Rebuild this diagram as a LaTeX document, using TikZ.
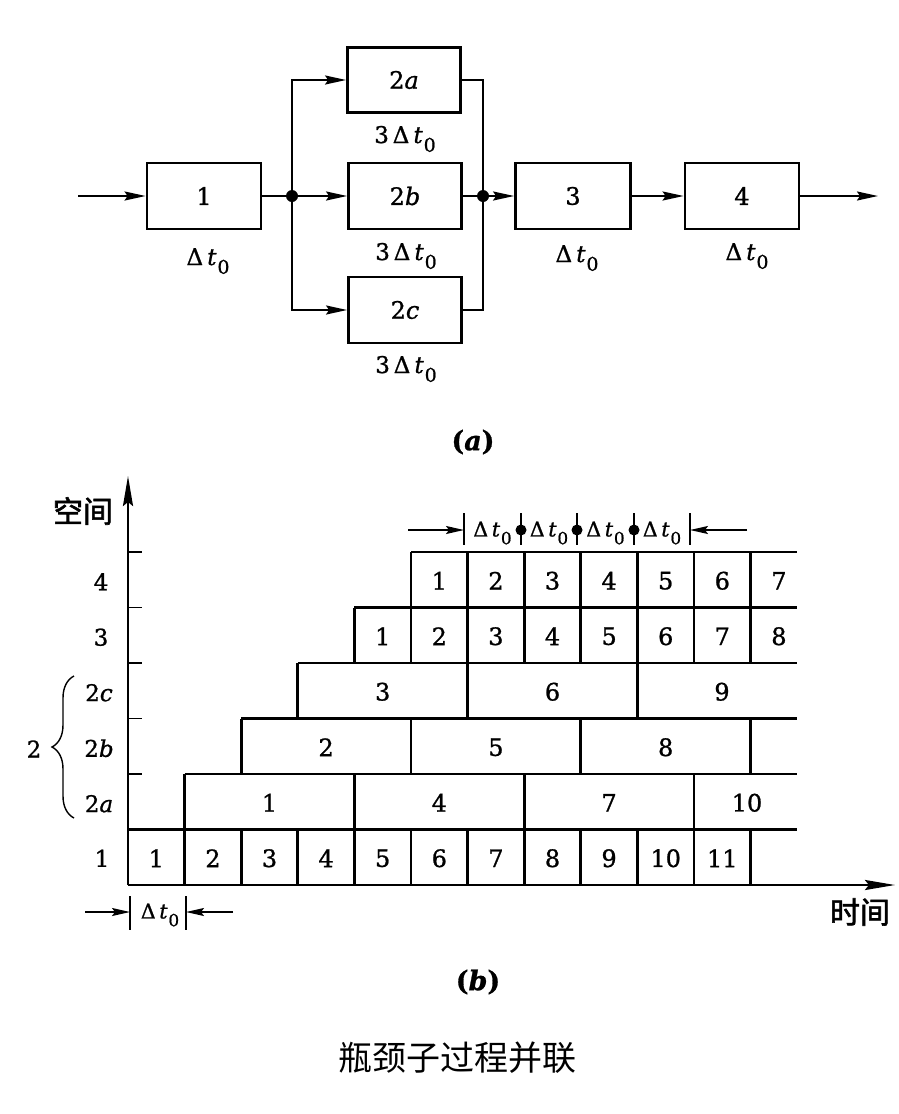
\RequirePackage{fix-cm}
\documentclass[tikz,border=0pt]{standalone}
\usepackage[no-math]{fontspec}
\setmainfont{DejaVu Serif}[FakeBold=1]
\newfontfamily\cjk{Noto Sans CJK SC}
\newfontfamily\cjkb[FakeBold=2]{Noto Sans CJK SC}
\usetikzlibrary{arrows.meta,decorations.pathreplacing,calc}
\newcommand\dtz{Δ\kern0.18em\textit{t}\kern0.04em\raisebox{-0.38em}{\scalebox{0.82}{0}}}
\begin{document}
\begin{tikzpicture}[x=1pt,y=-1pt,
  box/.style={draw,line width=2.8pt,minimum width=114pt,minimum height=66pt,inner sep=0pt,font=\fontsize{24}{28}\selectfont},
  conn/.style={line width=2pt},
  arr/.style={conn,-{Stealth[length=21pt,width=9pt,inset=3pt]}},
  lbl/.style={font=\fontsize{23}{27}\selectfont,inner sep=0pt,anchor=base},
  jdot/.style={circle,fill,inner sep=0pt,minimum size=12pt},
  gridline/.style={line width=2.9pt},
  axisarr/.style={line width=2.5pt,-{Stealth[length=30pt,width=10pt,inset=4pt]}},
  num/.style={font=\fontsize{24}{28}\selectfont,inner sep=0pt},
  axl/.style={font=\fontsize{23}{27}\selectfont,inner sep=0pt},
  dimline/.style={line width=1.6pt},
  dimarr/.style={line width=1.6pt,-{Stealth[length=18pt,width=8pt,inset=3pt]}},
  dimtxt/.style={font=\fontsize{20.5}{24}\selectfont,inner sep=0pt},
  declare function={cx(\k)=128+56.6*\k; ry(\r)=885-55.5*\r;}
]
\useasboundingbox (0,0) rectangle (898,1114);

% ---------------- (a) ----------------
\node[box] (b1) at (204,196) {1};
\node[box,minimum width=113pt,minimum height=65pt] (b2a) at (404,80) {2\textit{a}};
\node[box,minimum width=113pt] (b2b) at (405,196) {2\textit{b}};
\node[box,minimum width=113pt] (b2c) at (405,310) {2\textit{c}};
\node[box,minimum width=115pt] (b3) at (573,196) {3};
\node[box] (b4) at (742,196) {4};

\node[jdot] (J1) at (292,196) {};
\node[jdot] (J2) at (483,196) {};
\coordinate (in) at (78,196);
\coordinate (out) at (878,196);

\draw[arr] (in) -- (b1.west);
\draw[conn] (b1.east) -- (J1);
\draw[arr] (J1) -- (b2b.west);
\draw[arr] (J1.center) |- (b2a.west);
\draw[arr] (J1.center) |- (b2c.west);
\draw[conn] (b2a.east) -| (J2.center);
\draw[conn] (b2c.east) -| (J2.center);
\draw[conn] (b2b.east) -- (J2);
\draw[arr] (J2) -- (b3.west);
\draw[arr] (b3.east) -- (b4.west);
\draw[arr] (b4.east) -- (out);

\node[lbl] (l1) at (208,265) {\dtz};
\node[lbl] (l2a) at (405,143) {3\,\dtz};
\node[lbl] (l2b) at (406,260) {3\,\dtz};
\node[lbl] (l2c) at (406,373) {3\,\dtz};
\node[lbl] (l3) at (577,262) {\dtz};
\node[lbl] (l4) at (747,260) {\dtz};

\node[font=\fontsize{27}{30}\selectfont\bfseries] (capa) at (473,442) {(\textit{a})};

% ---------------- (b) ----------------
\coordinate (O) at (128,885);
\coordinate (xend) at (895,885);
\coordinate (yend) at (128,476);
\draw[axisarr] (O) -- (xend);
\draw[axisarr] (O) -- (yend);
\foreach \r in {1,...,6} \draw[line width=1.8pt] (128,{ry(\r)}) -- (142,{ry(\r)});

% horizontal row lines
\draw[gridline] ({cx(0)},{ry(1)}) -- (797,{ry(1)});
\foreach \r in {2,...,6} \draw[gridline] ({cx(\r-1)},{ry(\r)}) -- (797,{ry(\r)});

% vertical separators
\foreach \k in {1,...,11} \draw[gridline] ({cx(\k)},{ry(0)}) -- ({cx(\k)},{ry(1)});
\foreach \k in {1,4,7,10} \draw[gridline] ({cx(\k)},{ry(1)}) -- ({cx(\k)},{ry(2)});
\foreach \k in {2,5,8,11} \draw[gridline] ({cx(\k)},{ry(2)}) -- ({cx(\k)},{ry(3)});
\foreach \k in {3,6,9} \draw[gridline] ({cx(\k)},{ry(3)}) -- ({cx(\k)},{ry(4)});
\foreach \k in {4,...,11} \draw[gridline] ({cx(\k)},{ry(4)}) -- ({cx(\k)},{ry(5)});
\foreach \k in {5,...,11} \draw[gridline] ({cx(\k)},{ry(5)}) -- ({cx(\k)},{ry(6)});

% numbers
\foreach \k in {1,...,11} \node[num] (ra\k) at ({cx(\k-0.5)},{ry(0.5)+1}) {\k};
\node[num] (rb1) at ({cx(2.5)},{ry(1.5)+1}) {1};
\node[num] (rb4) at ({cx(5.5)},{ry(1.5)+1}) {4};
\node[num] (rb7) at ({cx(8.5)},{ry(1.5)+1}) {7};
\node[num] (rb10) at (747,{ry(1.5)+1}) {10};
\node[num] (rc2) at ({cx(3.5)},{ry(2.5)+1}) {2};
\node[num] (rc5) at ({cx(6.5)},{ry(2.5)+1}) {5};
\node[num] (rc8) at ({cx(9.5)},{ry(2.5)+1}) {8};
\node[num] (rd3) at ({cx(4.5)},{ry(3.5)+1}) {3};
\node[num] (rd6) at ({cx(7.5)},{ry(3.5)+1}) {6};
\node[num] (rd9) at (722,{ry(3.5)+1}) {9};
\foreach \k in {1,...,8} \node[num] (re\k) at ({cx(\k+3.5)},{ry(4.5)+1}) {\k};
\foreach \k in {1,...,7} \node[num] (rf\k) at ({cx(\k+4.5)},{ry(5.5)+1}) {\k};

% left labels
\node[axl] (y1) at (102,{ry(0.5)+1}) {1};
\node[axl] (y2a) at (99,{ry(1.5)+2}) {2\textit{a}};
\node[axl] (y2b) at (99,{ry(2.5)+2}) {2\textit{b}};
\node[axl] (y2c) at (99,{ry(3.5)+2}) {2\textit{c}};
\node[axl] (y3) at (101,{ry(4.5)+2}) {3};
\node[axl] (y4) at (101,{ry(5.5)+2}) {4};
\coordinate (brb) at (74,818);
\coordinate (brt) at (74,676);
\draw[line width=1.4pt,decorate,decoration={brace,amplitude=22pt}] (brb) -- (brt);
\node[axl] (y2) at (34,749) {2};

\node[font=\fontsize{30}{34}\selectfont\cjkb] (kj) at (83,511) {空间};
\node[font=\fontsize{30}{34}\selectfont\cjkb] (sj) at (860,912) {时间};

% top dimension
\coordinate (tA) at (408,530);
\coordinate (tB) at (747,530);
\foreach \i/\x in {0/464,1/521,2/577,3/634,4/690} \coordinate (tb\i) at (\x,530);
\draw[dimarr] (tA) -- (tb0);
\draw[dimarr] (tB) -- (tb4);
\foreach \i in {0,...,4} \draw[dimline] ([yshift=17pt]tb\i) -- ([yshift=-15pt]tb\i);
\foreach \i in {1,2,3} \fill (tb\i) circle (5.5pt);
\foreach \i/\j in {0/1,1/2,2/3,3/4} \node[dimtxt] (td\i) at ($(tb\i)!0.5!(tb\j)+(0,3)$) {\dtz};

% bottom dimension
\coordinate (bA) at (85,912);
\coordinate (bB) at (233,912);
\coordinate (bb0) at (130,912);
\coordinate (bb1) at (186,912);
\draw[dimarr] (bA) -- (bb0);
\draw[dimarr] (bB) -- (bb1);
\draw[dimline] ([yshift=16pt]bb0) -- ([yshift=-18pt]bb0);
\draw[dimline] ([yshift=16pt]bb1) -- ([yshift=-18pt]bb1);
\node[dimtxt] (bd) at ($(bb0)!0.5!(bb1)+(2,3)$) {\dtz};

\node[font=\fontsize{27}{30}\selectfont\bfseries] (capb) at (478,982) {(\textit{b})};

\node[font=\fontsize{34}{38}\selectfont\cjk] (cap) at (457,1058) {瓶颈子过程并联};
\end{tikzpicture}
\end{document}
